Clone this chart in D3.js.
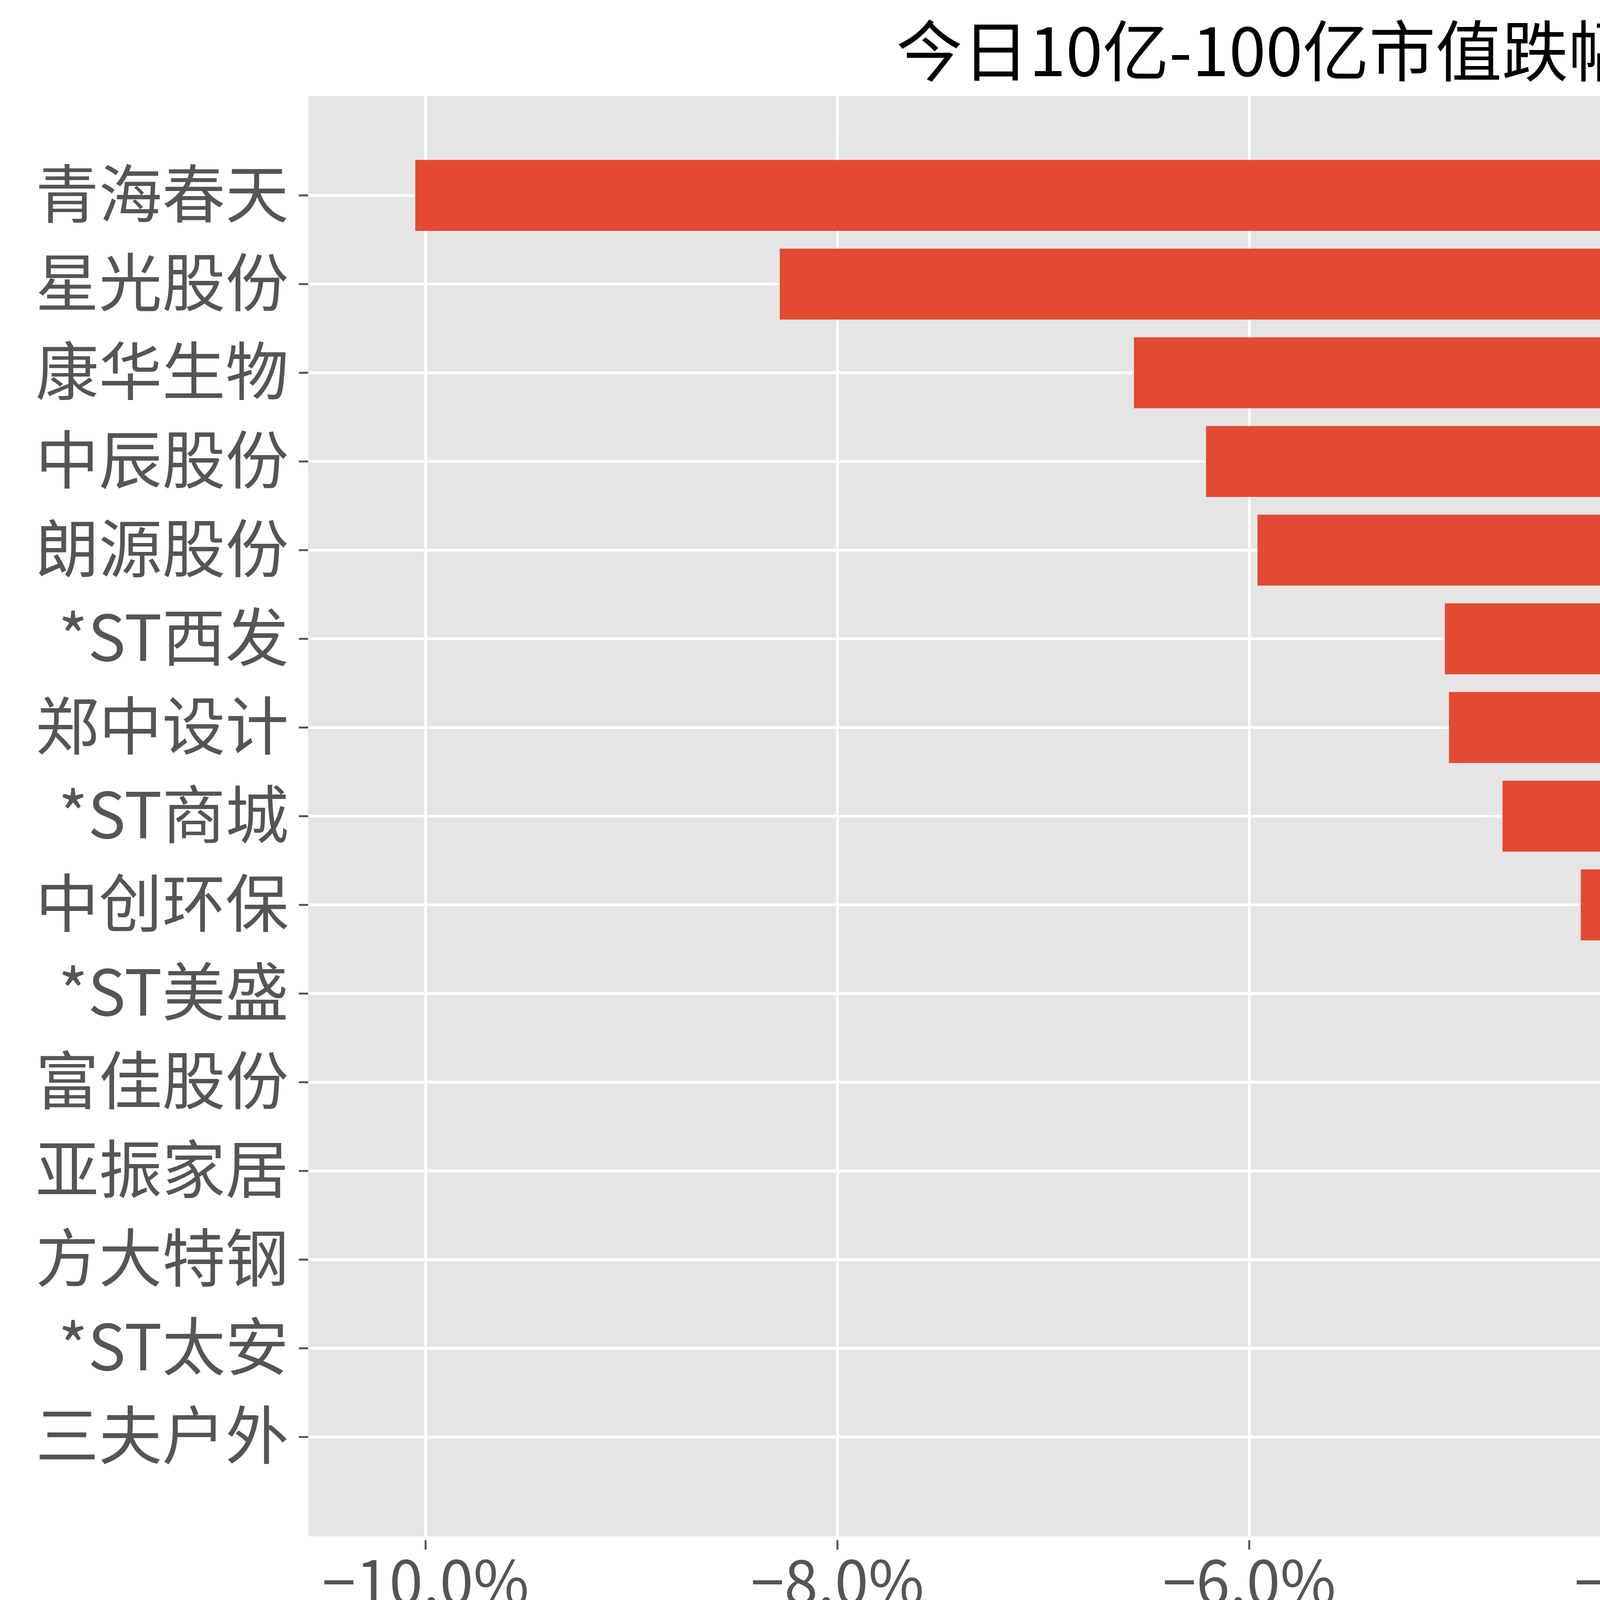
<!DOCTYPE html>
<html><head><meta charset="utf-8">
<script src="https://cdn.jsdelivr.net/npm/d3@7"></script>
<style>body{margin:0;background:#fff}text{font-family:"Noto Sans CJK SC",sans-serif}</style>
</head><body><div id="chart"></div>
<script>
const names = ['青海春天','星光股份','康华生物','中辰股份','朗源股份','*ST西发','郑中设计','*ST商城','中创环保','*ST美盛','富佳股份','亚振家居','方大特钢','*ST太安','三夫户外'];
const changes = [-10.05, -8.28, -6.56, -6.21, -5.96, -5.05, -5.03, -4.77, -4.39, -4.23, -4.16, -3.97, -3.87, -3.82, -3.82];
const xTicks = [-10, -8, -6, -4, -2, 0];

const width = 7149, height = 4318;
const plotL = 789, plotR = 6361, plotT = 246, plotB = 3933;

const svg = d3.select('#chart').append('svg')
    .attr('width', width).attr('height', height);

const x = d3.scaleLinear().domain([-10.57, 0]).range([plotL, plotR]);
const y = d3.scaleLinear().domain([-1.12, names.length - 1 + 1.12]).range([plotT, plotB]);
const barH = (y(1) - y(0)) * 0.8;

svg.append('rect').attr('x', plotL).attr('y', plotT)
    .attr('width', plotR - plotL).attr('height', plotB - plotT).attr('fill', '#e5e5e5');

// grid
svg.selectAll('.vg').data(xTicks).join('line')
    .attr('x1', d => x(d)).attr('x2', d => x(d)).attr('y1', plotT).attr('y2', plotB)
    .attr('stroke', '#fff').attr('stroke-width', 7);
svg.selectAll('.hg').data(names).join('line')
    .attr('x1', plotL).attr('x2', plotR).attr('y1', (d, i) => y(i)).attr('y2', (d, i) => y(i))
    .attr('stroke', '#fff').attr('stroke-width', 7);

// bars
svg.selectAll('.bar').data(changes).join('rect')
    .attr('x', d => x(d)).attr('width', d => x(0) - x(d))
    .attr('y', (d, i) => y(i) - barH / 2).attr('height', barH)
    .attr('fill', '#e24a33');

// y labels both sides
svg.selectAll('.yt').data(names).join('line')
    .attr('x1', plotL - 24).attr('x2', plotL).attr('y1', (d, i) => y(i)).attr('y2', (d, i) => y(i))
    .attr('stroke', '#555').attr('stroke-width', 5);
svg.selectAll('.yl').data(names).join('text')
    .attr('x', plotL - 50).attr('y', (d, i) => y(i)).attr('dy', '0.35em')
    .attr('text-anchor', 'end').attr('font-size', 162).attr('fill', '#555').text(d => d);
svg.selectAll('.yr').data(names).join('text')
    .attr('x', plotR + 70).attr('y', (d, i) => y(i)).attr('dy', '0.35em')
    .attr('text-anchor', 'start').attr('font-size', 162).attr('fill', '#555').text(d => d);

// x axis
svg.selectAll('.xt').data(xTicks).join('line')
    .attr('x1', d => x(d)).attr('x2', d => x(d)).attr('y1', plotB + 10).attr('y2', plotB + 34)
    .attr('stroke', '#555').attr('stroke-width', 5);
svg.selectAll('.xl').data(xTicks).join('text')
    .attr('x', d => x(d)).attr('y', 4108)
    .attr('text-anchor', 'middle').attr('font-size', 155).attr('fill', '#555')
    .text(d => d3.format('.1f')(d).replace('-', '−') + '%');

svg.append('text').attr('x', (plotL + plotR) / 2).attr('y', 4245)
    .attr('text-anchor', 'middle').attr('font-size', 95).attr('fill', '#555').text('今日跌幅');

svg.append('text').attr('x', (plotL + plotR) / 2).attr('y', 195)
    .attr('text-anchor', 'middle').attr('font-size', 170).attr('fill', '#000')
    .text('今日10亿-100亿市值跌幅TOP股票');
</script></body></html>
